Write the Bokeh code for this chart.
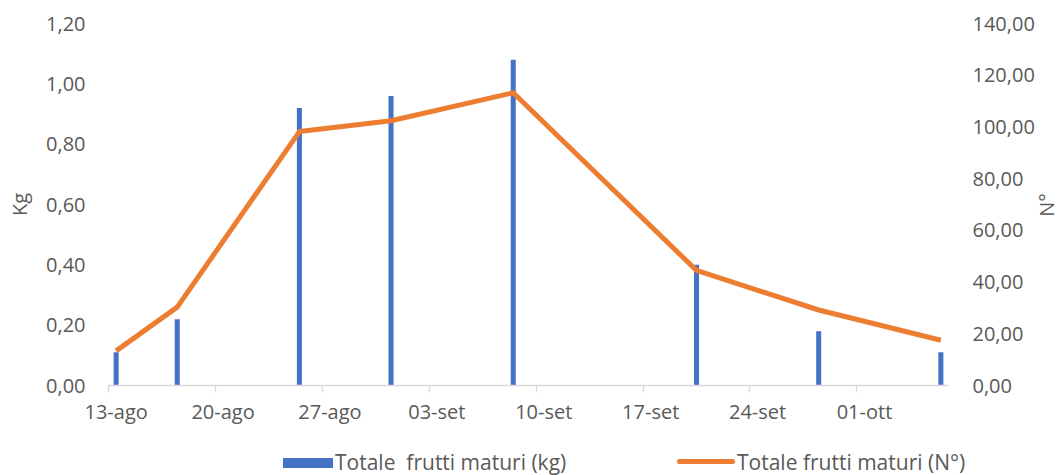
import pandas as pd
from bokeh.plotting import figure
from bokeh.layouts import column, row
from bokeh.models import (Range1d, LinearAxis, FixedTicker, CustomJSTickFormatter, Div)
from bokeh.embed import file_html
from bokeh.resources import INLINE

# Harvest dates and totals of ripe fruit
harvest_dates = ["2021-08-13", "2021-08-17", "2021-08-25", "2021-08-31",
                 "2021-09-08", "2021-09-20", "2021-09-28", "2021-10-06"]
kg_values = [0.11, 0.22, 0.92, 0.96, 1.08, 0.40, 0.18, 0.11]
count_values = [13.4, 30.3, 98.2, 102.4, 113.2, 44.5, 29.2, 17.5]

# Weekly date ticks on the x axis
tick_labels = ["13-ago", "20-ago", "27-ago", "03-set", "10-set", "17-set", "24-set", "01-ott"]

series_names = ["Totale  frutti maturi (kg)", "Totale frutti maturi (N°)"]
left_title = "Kg"
right_title = "N°"

FONT = "Open Sans"
GREY = "#595959"
BLUE = "#4472C4"
ORANGE = "#ED7D31"

start = pd.Timestamp(harvest_dates[0])
day_index = [(pd.Timestamp(d) - start).days for d in harvest_dates]
day_centre = [d + 0.5 for d in day_index]
tick_starts = [7 * i for i in range(len(tick_labels))]
tick_centres = [t + 0.5 for t in tick_starts]

p = figure(width=1038, height=445, output_backend="svg", toolbar_location=None,
           x_range=Range1d(0, 55), y_range=Range1d(0, 1.2),
           min_border_left=108, min_border_right=90, min_border_top=23,
           min_border_bottom=60, outline_line_color=None)
p.xgrid.visible = False
p.ygrid.visible = False

p.extra_y_ranges = {"n": Range1d(0, 140)}

comma2 = CustomJSTickFormatter(code="return tick.toFixed(2).replace('.', ',');")

# left axis (kg)
ya = p.yaxis[0]
ya.ticker = FixedTicker(ticks=[0, 0.2, 0.4, 0.6, 0.8, 1.0, 1.2])
ya.formatter = comma2
ya.axis_label = left_title
ya.axis_label_standoff = 10

# right axis (count); its title sits in the narrow strip beside the plot
ra = LinearAxis(y_range_name="n", ticker=FixedTicker(ticks=list(range(0, 141, 20))),
                formatter=comma2)
p.add_layout(ra, "right")

for ax in (ya, ra):
    ax.axis_line_color = None
    ax.major_tick_line_color = None
    ax.minor_tick_line_color = None
    ax.major_tick_out = 0
    ax.major_label_standoff = 23
    ax.major_label_text_font = FONT
    ax.major_label_text_font_size = "20px"
    ax.major_label_text_color = GREY
    ax.axis_label_text_font = FONT
    ax.axis_label_text_font_size = "20px"
    ax.axis_label_text_font_style = "normal"
    ax.axis_label_text_color = GREY
ra.major_label_standoff = 24

# x axis: labels centred on the day, tick marks at day boundaries
xa = p.xaxis[0]
xa.ticker = FixedTicker(ticks=tick_centres, minor_ticks=tick_starts)
xa.major_label_overrides = {c: lab for c, lab in zip(tick_centres, tick_labels)}
xa.axis_line_color = "#D9D9D9"
xa.axis_line_width = 1.3
xa.major_tick_line_color = None
xa.major_tick_out = 0
xa.major_tick_in = 0
xa.minor_tick_line_color = "#D9D9D9"
xa.minor_tick_line_width = 1.3
xa.minor_tick_out = 7
xa.minor_tick_in = 0
xa.major_label_standoff = 5
xa.major_label_text_font = FONT
xa.major_label_text_font_size = "20px"
xa.major_label_text_color = GREY

p.vbar(x=day_centre, top=kg_values, bottom=0, width=0.33,
       fill_color=BLUE, line_color=None)
p.line(x=day_centre, y=count_values, y_range_name="n",
       line_color=ORANGE, line_width=5, line_join="round")

# right-hand axis title, reading bottom to top
title_html = (
    '<div style="position:relative;width:22px;height:445px;">'
    '<span style="position:absolute;left:9px;top:205px;white-space:nowrap;'
    'transform:translate(-50%,-50%) rotate(-90deg);'
    f"font-family:'{FONT}';font-size:20px;color:{GREY};\">{right_title}</span>"
    '</div>'
)
right_label = Div(text=title_html, width=22, height=445, margin=0)

# legend strip underneath the chart
key_style = "position:absolute;display:block;"
text_style = ("position:absolute;top:3px;line-height:28px;white-space:pre;"
              f"font-family:'{FONT}';font-size:21px;color:{GREY};")
legend_html = (
    '<div style="position:relative;width:1060px;height:30px;">'
    f'<span style="{key_style}left:283px;top:13px;width:50px;height:10px;background:{BLUE};"></span>'
    f'<span style="{text_style}left:335px;">{series_names[0]}</span>'
    f'<span style="{key_style}left:677px;top:14px;width:58px;height:5px;'
    f'border-radius:2px;background:{ORANGE};"></span>'
    f'<span style="{text_style}left:737px;">{series_names[1]}</span>'
    '</div>'
)
legend = Div(text=legend_html, width=1060, height=30, margin=0)

page = column(row(p, right_label, spacing=0), legend, spacing=0)
open("out.html", "w").write(file_html(page, INLINE))
